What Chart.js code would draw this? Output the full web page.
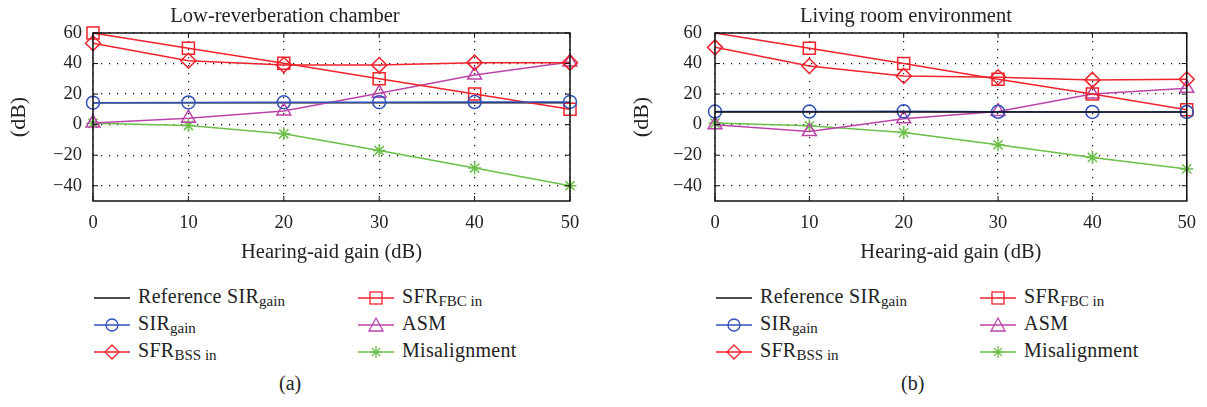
<!DOCTYPE html>
<html>
<head>
<meta charset="utf-8">
<script src="https://cdn.jsdelivr.net/npm/chart.js@4/dist/chart.umd.min.js"></script>
<style>
    body {
        margin: 0;
        width: 1207px;
        height: 407px;
        background: #fff;
        position: relative;
        overflow: hidden;
        font-family: "Liberation Serif", "DejaVu Serif", serif;
        color: #222;
    }
    .plot {
        position: absolute;
        top: 0;
        height: 265px;
    }
    .legend {
        position: absolute;
        font-size: 20px;
        line-height: 27px;
        letter-spacing: 0.3px;
    }
    .legend .item {
        position: absolute;
        white-space: nowrap;
    }
    .legend svg {
        position: absolute;
        left: 0;
        top: 3px;
    }
    .legend span {
        position: absolute;
        left: 44px;
        top: -1px;
    }
    sub {
        font-size: 15px;
        vertical-align: -3px;
        line-height: 0;
        letter-spacing: 0;
    }
    .caption {
        position: absolute;
        top: 372px;
        font-size: 20px;
    }
</style>
</head>
<body>

<div class="plot" style="left:0;width:600px;"><canvas id="chartA"></canvas></div>
<div class="plot" style="left:620px;width:587px;"><canvas id="chartB"></canvas></div>

<div class="legend" id="legendA" style="left:94px;top:284px;"></div>
<div class="legend" id="legendB" style="left:716px;top:284px;"></div>

<div class="caption" style="left:279px;">(a)</div>
<div class="caption" style="left:901px;">(b)</div>

<script>
// ===============================
// DATA
// ===============================

const gains = [0, 10, 20, 30, 40, 50];
const yTicks = [-40, -20, 0, 20, 40, 60];

// (a) low-reverberation chamber
const refSirA = [14.4, 14.4, 14.4, 14.4, 14.4, 14.4];
const sirGainA = [14.4, 14.5, 14.6, 14.7, 14.8, 14.9];
const sfrBssA = [53.3, 41.8, 39, 39, 40.6, 40.6];
const sfrFbcA = [60, 50, 40.2, 30, 20, 10];
const asmA = [1, 4.2, 9, 20.6, 32.5, 41];
const misA = [0.9, -0.6, -6, -16.9, -28.4, -40];

// (b) living room environment
const refSirB = [8.3, 8.3, 8.3, 8.3, 8.3, 8.3];
const sirGainB = [8.6, 8.6, 8.7, 8.4, 8.3, 8.3];
const sfrBssB = [50.6, 38.4, 31.9, 31, 29.3, 29.7];
const sfrFbcB = [60, 50, 40, 29.7, 20, 9.7];
const asmB = [0, -4.5, 3.8, 8.6, 20, 23.9];
const misB = [1, -0.8, -5.2, -13.2, -21.5, -29];

// ===============================
// STYLES
// ===============================

const BLACK = '#111111';
const BLUE = '#3050b8';
const RED = '#f0222c';
const MAGENTA = '#bb44aa';
const GREEN = '#6cbf48';

const FONT = '"Liberation Serif", "DejaVu Serif", serif';

function toPoints(values) {
    return gains.map((g, i) => ({ x: g, y: values[i] }));
}

function series(label, values, color, style, radius, extra) {
    return Object.assign({
        label: label,
        data: toPoints(values),
        borderColor: color,
        backgroundColor: 'rgba(0,0,0,0)',
        borderWidth: 1.5,
        pointStyle: style,
        pointRadius: radius,
        pointBorderColor: color,
        pointBorderWidth: 1.5,
        pointBackgroundColor: 'rgba(0,0,0,0)',
        tension: 0,
        clip: false
    }, extra || {});
}

// frame + inward tick marks
const framePlugin = {
    id: 'frame',
    afterDraw(chart) {
        const ctx = chart.ctx;
        const a = chart.chartArea;
        const xs = chart.scales.x;
        const ys = chart.scales.y;
        ctx.save();
        ctx.strokeStyle = BLACK;
        ctx.lineWidth = 1.5;
        ctx.strokeRect(a.left, a.top, a.right - a.left, a.bottom - a.top);
        ctx.lineWidth = 1;
        ctx.beginPath();
        gains.forEach(g => {
            const px = xs.getPixelForValue(g);
            ctx.moveTo(px, a.bottom);
            ctx.lineTo(px, a.bottom - 5);
            ctx.moveTo(px, a.top);
            ctx.lineTo(px, a.top + 5);
        });
        yTicks.forEach(v => {
            const py = ys.getPixelForValue(v);
            ctx.moveTo(a.left, py);
            ctx.lineTo(a.left + 5, py);
            ctx.moveTo(a.right, py);
            ctx.lineTo(a.right - 5, py);
        });
        ctx.stroke();
        ctx.restore();
    }
};

function makeChart(id, title, sets, opts) {
    const ctx = document.getElementById(id);
    return new Chart(ctx, {
        type: 'line',
        data: {
            datasets: [
                series('Reference SIR gain', sets.ref, BLACK, false, 0, { order: opts.refOrder }),
                series('SIR gain', sets.sir, BLUE, 'circle', 6.5, { order: 2 }),
                series('SFR BSS in', sets.bss, RED, 'rectRot', 7.5, { order: 3 }),
                series('SFR FBC in', sets.fbc, RED, 'rect', 8.5, { order: 4, pointRadius: opts.fbcRadius }),
                series('ASM', sets.asm, MAGENTA, 'triangle', 8, { order: 5 }),
                series('Misalignment', sets.mis, GREEN, 'star', 6.5, { order: 6 })
            ]
        },
        options: {
            responsive: true,
            maintainAspectRatio: false,
            animation: false,
            events: [],
            layout: {
                padding: { left: 0, right: opts.padRight, top: 0, bottom: 0 }
            },
            plugins: {
                legend: { display: false },
                tooltip: { enabled: false },
                title: {
                    display: true,
                    text: title,
                    color: '#222',
                    font: { family: FONT, size: 20.5, weight: 'normal' },
                    padding: { top: 4, bottom: 4.4 }
                }
            },
            scales: {
                x: {
                    type: 'linear',
                    min: 0,
                    max: 50,
                    afterBuildTicks: s => { s.ticks = gains.map(v => ({ value: v })); },
                    afterFit: s => { s.height = 64; },
                    grid: {
                        color: BLACK,
                        lineWidth: 1.2,
                        drawTicks: false
                    },
                    border: { display: false, dash: [1.2, 6.8] },
                    ticks: {
                        color: '#222',
                        padding: 11,
                        maxRotation: 0,
                        font: { family: FONT, size: 18.5 }
                    },
                    title: {
                        display: true,
                        text: 'Hearing-aid gain (dB)',
                        color: '#222',
                        font: { family: FONT, size: 20.5 },
                        padding: { top: 2, bottom: 0 }
                    }
                },
                y: {
                    type: 'linear',
                    min: -50,
                    max: 60,
                    afterBuildTicks: s => { s.ticks = yTicks.map(v => ({ value: v })); },
                    afterFit: s => { s.width = opts.yWidth; },
                    grid: {
                        color: BLACK,
                        lineWidth: 1.2,
                        drawTicks: false
                    },
                    border: { display: false, dash: [1.2, 6.8] },
                    ticks: {
                        color: '#222',
                        padding: opts.tickPad,
                        font: { family: FONT, size: 18.5 },
                        callback: v => String(v).replace('-', '\u2212')
                    },
                    title: {
                        display: true,
                        text: '(dB)',
                        color: '#222',
                        font: { family: FONT, size: 22 },
                        padding: { top: opts.titlePad, bottom: 0 }
                    }
                }
            }
        },
        plugins: [framePlugin]
    });
}

makeChart('chartA', 'Low-reverberation chamber', {
    ref: refSirA, sir: sirGainA, bss: sfrBssA, fbc: sfrFbcA, asm: asmA, mis: misA
}, { padRight: 30, yWidth: 93, tickPad: 11, titlePad: 6, refOrder: 7, fbcRadius: 8.5 });

makeChart('chartB', 'Living room environment', {
    ref: refSirB, sir: sirGainB, bss: sfrBssB, fbc: sfrFbcB, asm: asmB, mis: misB
}, { padRight: 15, yWidth: 95, tickPad: 13, titlePad: 9, refOrder: 1, fbcRadius: [0, 8.5, 8.5, 8.5, 8.5, 8.5] });

// ===============================
// LEGENDS
// ===============================

const legendItems = [
    { col: 0, row: 0, color: BLACK, marker: 'none', html: 'Reference SIR<sub>gain</sub>' },
    { col: 0, row: 1, color: BLUE, marker: 'circle', html: 'SIR<sub>gain</sub>' },
    { col: 0, row: 2, color: RED, marker: 'diamond', html: 'SFR<sub>BSS in</sub>' },
    { col: 1, row: 0, color: RED, marker: 'square', html: 'SFR<sub>FBC in</sub>' },
    { col: 1, row: 1, color: MAGENTA, marker: 'triangle', html: 'ASM' },
    { col: 1, row: 2, color: GREEN, marker: 'star', html: 'Misalignment' }
];

function markerSvg(color, marker) {
    let m = '';
    if (marker === 'circle') {
        m = `<circle cx="18" cy="11" r="6" fill="none" stroke="${color}" stroke-width="1.3"/>`;
    } else if (marker === 'diamond') {
        m = `<polygon points="18,4 25,11 18,18 11,11" fill="none" stroke="${color}" stroke-width="1.3"/>`;
    } else if (marker === 'square') {
        m = `<rect x="12" y="5" width="12" height="12" fill="none" stroke="${color}" stroke-width="1.3"/>`;
    } else if (marker === 'triangle') {
        m = `<polygon points="18,4 25,17 11,17" fill="none" stroke="${color}" stroke-width="1.3"/>`;
    } else if (marker === 'star') {
        m = `<path d="M18,5 L18,17 M12,11 L24,11 M14,7 L22,15 M22,7 L14,15" stroke="${color}" stroke-width="1.2"/>`;
    }
    return `<svg width="36" height="22" viewBox="0 0 36 22">
        <line x1="0" y1="11" x2="36" y2="11" stroke="${color}" stroke-width="1.3"/>${m}</svg>`;
}

['legendA', 'legendB'].forEach(id => {
    const box = document.getElementById(id);
    const colX = [0, 264];
    legendItems.forEach(item => {
        box.innerHTML += `
            <div class="item" style="left:${colX[item.col]}px;top:${item.row * 27}px;">
                ${markerSvg(item.color, item.marker)}
                <span>${item.html}</span>
            </div>
        `;
    });
});
</script>
</body>
</html>
